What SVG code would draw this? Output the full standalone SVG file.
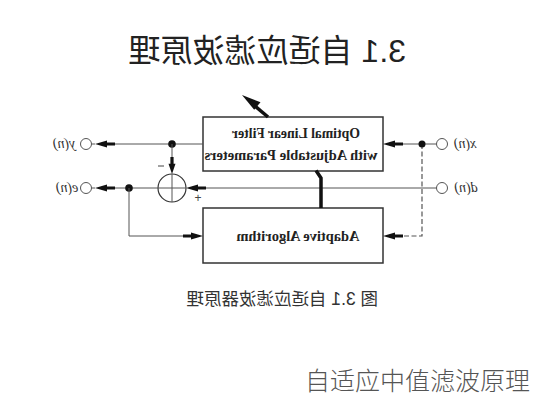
<svg xmlns="http://www.w3.org/2000/svg" width="533" height="400" viewBox="0 0 533 400">
<style>
.box{fill:#fff;stroke:#333;stroke-width:1.5}
.ln{fill:none;stroke:#555;stroke-width:1}
.dash{fill:none;stroke:#555;stroke-width:1.2;stroke-dasharray:5 2.5}
.thick{fill:none;stroke:#111;stroke-width:3.5}
.ah{fill:#111}
.dot{fill:#111}
.term{fill:#fff;stroke:#555;stroke-width:1}
.bt{font-family:"Liberation Serif",serif;font-weight:bold;font-size:14px;fill:#222}
.lbl{font-family:"Liberation Serif",serif;font-style:italic;font-size:14px;fill:#333}
.sg{font-family:"Liberation Sans",sans-serif;font-size:12px;fill:#444}
.ttl{font-family:"Liberation Sans","Noto Sans CJK SC",sans-serif;font-size:32px;fill:#222}
.cap{font-family:"Liberation Sans","Noto Sans CJK SC",sans-serif;font-size:17.5px;fill:#333}
.foot{font-family:"Noto Sans CJK SC",sans-serif;font-size:25px;font-weight:300;fill:#555}
</style>
<defs>
<polygon id="arL" points="0,0 12,-3.5 12,-1.6 20,-1.6 20,1.6 12,1.6 12,3.5" class="ah"/>
</defs>
<rect width="533" height="400" fill="#fff"/>
<text class="ttl" transform="scale(-1,1)" x="-406" y="62">3.1 自适应滤波原理</text>

<g id="filter">
<rect class="box" x="203" y="117" width="180" height="54"/>
<text class="bt" transform="scale(-1,1)" x="-296" y="138" text-anchor="middle" textLength="128" lengthAdjust="spacingAndGlyphs">Optimal Linear Filter</text>
<text class="bt" transform="scale(-1,1)" x="-291" y="160" text-anchor="middle" textLength="173" lengthAdjust="spacingAndGlyphs">with Adjustable Parameters</text>
</g>
<g id="algorithm">
<rect class="box" x="203" y="208" width="180" height="55"/>
<text class="bt" transform="scale(-1,1)" x="-298" y="241" text-anchor="middle" textLength="123" lengthAdjust="spacingAndGlyphs">Adaptive Algorithm</text>
</g>
<g id="sum">
<circle cx="172" cy="188" r="14" fill="#fff" stroke="#333" stroke-width="1.2"/>
<line x1="172" y1="174" x2="172" y2="202" stroke="#555" stroke-width="1"/>
<line x1="158" y1="188" x2="186" y2="188" stroke="#555" stroke-width="1"/>
<line x1="158" y1="166" x2="164" y2="166" stroke="#444" stroke-width="1"/>
<text class="sg" x="198" y="202" text-anchor="middle">+</text>
</g>
<g id="term-x">
<circle class="term" cx="442" cy="144" r="5.5"/>
<text class="lbl" transform="scale(-1,1)" x="-465" y="148" text-anchor="middle">x(n)</text>
</g>
<g id="term-d">
<circle class="term" cx="442" cy="188" r="5.5"/>
<text class="lbl" transform="scale(-1,1)" x="-466" y="192" text-anchor="middle">d(n)</text>
</g>
<g id="term-y">
<circle class="term" cx="86" cy="144" r="5.5"/>
<text class="lbl" transform="scale(-1,1)" x="-64" y="148" text-anchor="middle">y(n)</text>
</g>
<g id="term-e">
<circle class="term" cx="86" cy="188" r="5.5"/>
<text class="lbl" transform="scale(-1,1)" x="-67" y="192" text-anchor="middle">e(n)</text>
</g>

<g id="connectors">
<line class="ln" x1="436.5" y1="144" x2="400" y2="144"/>
<use href="#arL" x="383" y="144"/>
<path class="dash" d="M422 144 V236 H400"/>
<use href="#arL" x="383" y="236"/>
<circle class="dot" cx="422" cy="144" r="3.5"/>
<line class="ln" x1="203" y1="144" x2="110" y2="144"/>
<use href="#arL" x="95" y="144"/>
<line class="ln" x1="95" y1="144" x2="91.5" y2="144"/>
<circle class="dot" cx="172" cy="144" r="3.8"/>
<line class="ln" x1="172" y1="144" x2="172" y2="160"/>
<use href="#arL" transform="translate(172,174) rotate(-90) scale(0.85,1)"/>
<line class="ln" x1="436.5" y1="188" x2="200" y2="188"/>
<use href="#arL" x="186" y="188"/>
<line class="ln" x1="158" y1="188" x2="110" y2="188"/>
<use href="#arL" x="95" y="188"/>
<line class="ln" x1="95" y1="188" x2="91.5" y2="188"/>
<circle class="dot" cx="129" cy="188" r="3.8"/>
<path class="ln" d="M129 188 V236 H190"/>
<use href="#arL" transform="translate(203,236) rotate(180)"/>
<path class="thick" d="M321 208 V178 L316 170.5"/>
<line class="thick" x1="268" y1="117" x2="255" y2="106" stroke-width="3"/>
<polygon class="ah" points="242,95 260.5,102.2 254.2,109.8"/>
</g>

<text class="cap" transform="scale(-1,1)" x="-378" y="305">图 3.1 自适应滤波器原理</text>
<text class="foot" x="305" y="390">自适应中值滤波原理</text>
</svg>
